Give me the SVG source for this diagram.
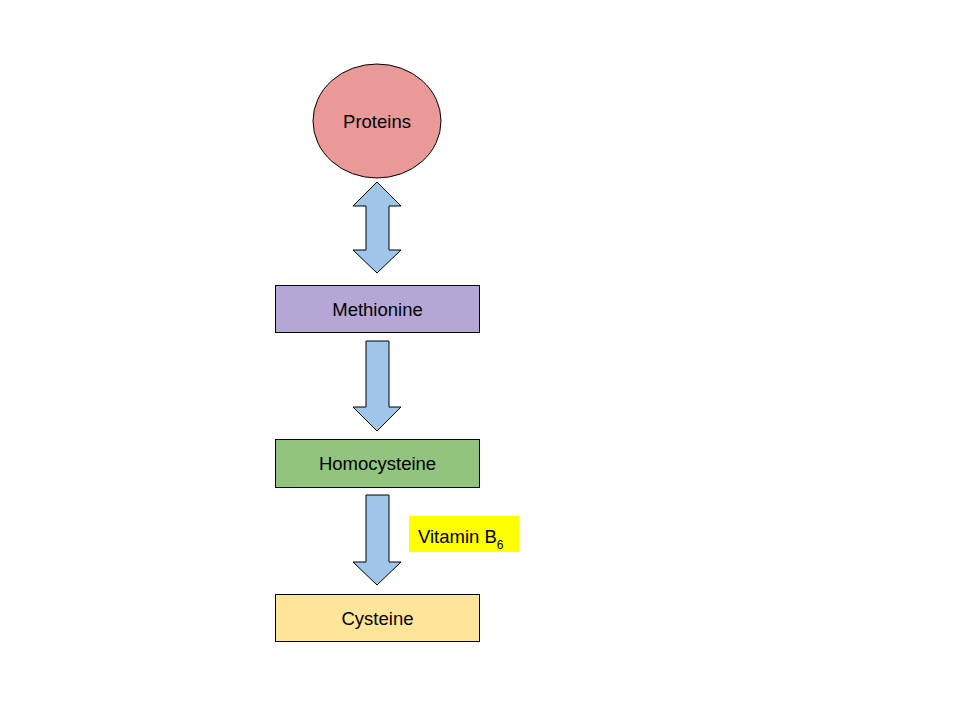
<svg xmlns="http://www.w3.org/2000/svg" width="960" height="720" viewBox="0 0 960 720">
<style>
.n{stroke:#000;stroke-width:1}
.a{fill:#9fc5e8;stroke:#000;stroke-width:1;stroke-linejoin:miter}
text{font-family:"Liberation Sans",Arial,sans-serif;font-size:18.5px;fill:#000;text-anchor:middle}
</style>
<rect width="960" height="720" fill="#fff"/>
<g id="proteins"><ellipse class="n" cx="377" cy="121" rx="64" ry="57" fill="#ea9999"/><text x="377" y="128">Proteins</text></g>
<g id="methionine"><rect class="n" x="275.5" y="285.5" width="204" height="47" fill="#b4a7d6"/><text x="377.5" y="315.5">Methionine</text></g>
<g id="homocysteine"><rect class="n" x="275.5" y="439.5" width="204" height="48" fill="#93c47d"/><text x="377.5" y="470">Homocysteine</text></g>
<g id="cysteine"><rect class="n" x="275.5" y="594.5" width="204" height="47" fill="#ffe599"/><text x="377.5" y="625">Cysteine</text></g>
<g id="vitamin"><rect x="409" y="516" width="110" height="36" fill="#ffff00"/><text x="418" y="543" style="text-anchor:start">Vitamin B<tspan font-size="12" dy="6">6</tspan></text></g>
<g id="connectors">
<path class="a" d="M377,182 L401,206 L389,206 L389,250 L401,250 L377,273 L353,250 L366,250 L366,206 L353,206 Z"/>
<path class="a" d="M366,341 L389,341 L389,407 L401,407 L377,431 L353,407 L366,407 Z"/>
<path class="a" d="M366,495 L389,495 L389,562 L401,562 L377,585 L353,562 L366,562 Z"/>
</g>
</svg>
